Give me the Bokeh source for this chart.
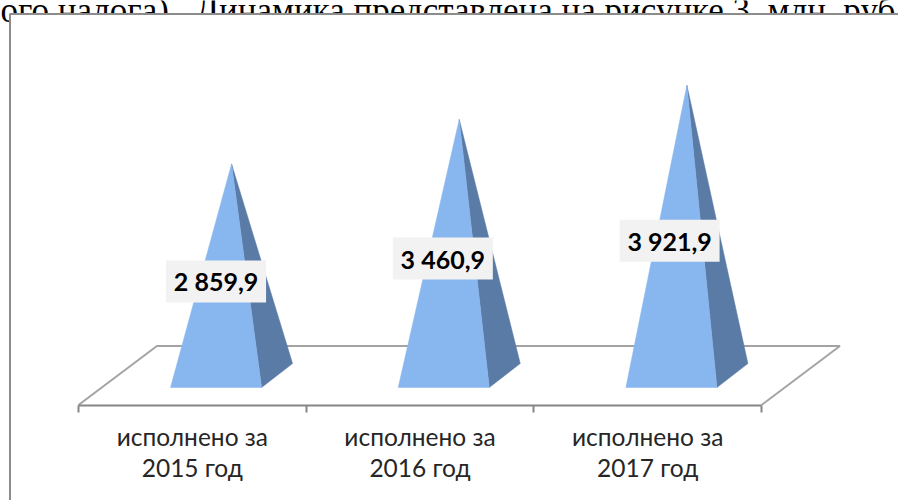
from bokeh.plotting import figure
from bokeh.models import Range1d, LinearAxis, FixedTicker, Label, BoxAnnotation
from bokeh.core.properties import value
from bokeh.embed import file_html
from bokeh.resources import INLINE

# data
years = ["2015 год", "2016 год", "2017 год"]
first_line = "исполнено за"
values = [2859.9, 3460.9, 3921.9]
value_labels = ["2 859,9", "3 460,9", "3 921,9"]
heading = "ого налога).\u00a0\u00a0Динамика представлена на рисунке 3, млн. руб."

# projection of the 2.5-D chart, in data units
FLOOR_DX, FLOOR_DY = 0.3445, 797
PYR_DX, PYR_DY = 0.136, 324
PYR_HALF = 0.2
LABEL_SLOPE, LABEL_BASE = 0.517, -208
LABEL_STEP = 0.996
AXIS_Y = -405
FRONT, SIDE = "#88B6EF", "#5A7BA5"
GRID = "#A3A3A3"

p = figure(width=898, height=500, output_backend="svg", toolbar_location=None,
           x_range=Range1d(-0.3426, 3.6017), y_range=Range1d(-1689, 5068),
           x_axis_type=None, y_axis_type=None, min_border=0, min_border_left=0,
           min_border_right=0, min_border_top=0, min_border_bottom=0,
           outline_line_color=None)
p.grid.visible = False

p.add_layout(Label(x=0, y=490, x_units="screen", y_units="screen", text=heading,
                   text_font="Liberation Serif", text_font_size="35px", text_color="#000000",
                   text_baseline="alphabetic", level="underlay"))
p.add_layout(BoxAnnotation(left=9.5, top=486.5, right=1000, bottom=-10,
                           left_units="screen", right_units="screen", top_units="screen", bottom_units="screen",
                           fill_color="#FFFFFF", fill_alpha=1, line_color="#8C8C8C", line_alpha=1, line_width=2,
                           level="underlay"))

# floor
n = len(values)
p.line([0, FLOOR_DX, n + FLOOR_DX, n],
       [-FLOOR_DY / 2, FLOOR_DY / 2, FLOOR_DY / 2, -FLOOR_DY / 2],
       line_color=GRID, line_width=2)

# pyramids
for i, v in enumerate(values):
    cx = i + 0.5 + FLOOR_DX / 2
    fc = cx - PYR_DX / 2
    p.patch([fc + PYR_HALF, fc + PYR_HALF + PYR_DX, cx], [-PYR_DY / 2, PYR_DY / 2, v],
            fill_color=SIDE, line_color=SIDE, line_width=0.5)
    p.patch([fc - PYR_HALF, fc + PYR_HALF, cx], [-PYR_DY / 2, -PYR_DY / 2, v],
            fill_color=FRONT, line_color=FRONT, line_width=0.5)

# value labels
lx = [i * LABEL_STEP + 0.5 + FLOOR_DX / 2 - PYR_DX / 2 for i in range(n)]
ly = [v * LABEL_SLOPE + LABEL_BASE for v in values]
p.rect(lx, ly, width=100, height=42, width_units="screen", height_units="screen",
       fill_color="#F2F2F2", line_color=None)
p.text(lx, ly, text=value_labels, text_font=value("Lato"), text_font_style="bold",
       text_font_size="25px", text_align="center", text_baseline="middle", text_color="#000000")

# axes
ticks = list(range(n + 1))
tick_axis = LinearAxis(ticker=FixedTicker(ticks=ticks), bounds=(0, n), fixed_location=AXIS_Y,
                       axis_line_color="#868686", axis_line_width=2,
                       major_tick_line_color="#868686", major_tick_line_width=2,
                       major_tick_in=0, major_tick_out=7, minor_tick_line_color=None,
                       major_label_overrides={t: "" for t in ticks}, major_label_standoff=0,
                       major_label_text_font_size="1px")
p.add_layout(tick_axis, "below")

centers = [i + 0.5 for i in range(n)]
for texts, standoff in (([first_line] * n, 17), (years, 48)):
    ax = LinearAxis(ticker=FixedTicker(ticks=centers), fixed_location=AXIS_Y,
                    major_label_overrides={c: t for c, t in zip(centers, texts)},
                    axis_line_color=None, major_tick_line_color=None, minor_tick_line_color=None,
                    major_tick_in=0, major_tick_out=0, major_label_standoff=standoff,
                    major_label_text_font="Lato", major_label_text_font_size="24.5px",
                    major_label_text_color="#262626")
    p.add_layout(ax, "below")

open("out.html", "w").write(file_html(p, INLINE))
